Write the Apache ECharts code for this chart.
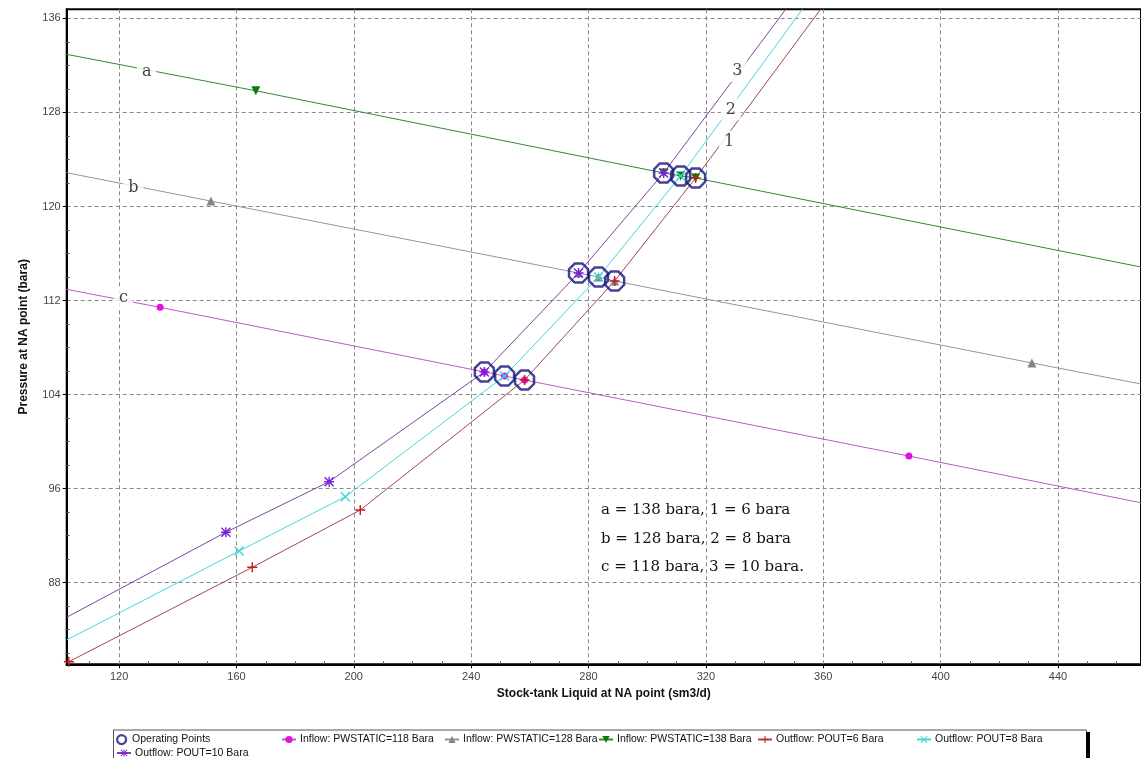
<!DOCTYPE html>
<html>
<head>
<meta charset="utf-8">
<script src="https://cdn.jsdelivr.net/npm/echarts@6/dist/echarts.min.js"></script>
<style>
html,body{margin:0;padding:0;background:#fff;}
#c{width:1141px;height:758px;}
</style>
</head>
<body>
<div id="c"></div>
<script>
// ---- axis ranges & ticks ----
const xMin = 102.15, xMax = 468.3;
const yMin = 81.06, yMax = 136.77;
const xTicks = [120, 160, 200, 240, 280, 320, 360, 400, 440];
const xMinorTicks = [110, 130, 140, 150, 170, 180, 190, 210, 220, 230, 250, 260, 270, 290, 300, 310, 330, 340, 350, 370, 380, 390, 410, 420, 430, 450, 460];
const yTicks = [88, 96, 104, 112, 120, 128, 136];
const yMinorTicks = [82, 84, 86, 90, 92, 94, 98, 100, 102, 106, 108, 110, 114, 116, 118, 122, 124, 126, 130, 132, 134];

// ---- operating points (intersections) ----
const opPoints = [[244.5, 105.93], [251.4, 105.58], [258.2, 105.24], [276.6, 114.34], [283.4, 114.0], [288.9, 113.66], [305.6, 122.85], [311.4, 122.6], [316.5, 122.42]];

// ---- inflow lines: edge points (no marker) and marker points ----
const inflow118Edges = [[102.15, 112.95], [468.3, 94.8]];
const inflow118Pts = [[134.0, 111.42], [244.5, 105.93], [251.4, 105.58], [258.2, 105.24], [389.2, 98.77]];
const inflow128Edges = [[102.15, 122.87], [468.3, 104.9]];
const inflow128Pts = [[151.3, 120.46], [276.6, 114.34], [283.4, 114.0], [288.9, 113.66], [431.1, 106.69]];
const inflow138Edges = [[102.15, 132.94], [468.3, 114.85]];
const inflow138Pts = [[166.6, 129.84], [305.6, 122.85], [311.4, 122.6], [316.5, 122.42]];

// ---- outflow curves ----
const outflow6Edges = [null, [359.1, 136.77]];
const outflow6Pts = [[102.9, 81.28], [165.4, 89.31], [202.2, 94.18], [258.2, 105.24], [288.9, 113.66], [316.5, 122.42]];
const outflow8Edges = [[102.15, 83.13], [352.9, 136.77]];
const outflow8Pts = [[160.9, 90.69], [197.1, 95.31], [251.4, 105.58], [283.4, 114.0], [311.4, 122.6]];
const outflow10Edges = [[102.15, 85.06], [347.2, 136.77]];
const outflow10Pts = [[156.4, 92.29], [191.6, 96.59], [244.5, 105.93], [276.6, 114.34], [305.6, 122.85]];

// ---- curve labels ----
const curveLabelText = ['a', 'b', 'c', '3', '2', '1'];
const curveLabelPos = [[129.4, 131.46], [124.9, 121.6], [121.5, 112.24], [330.7, 131.52], [328.5, 128.26], [327.9, 125.51]];

const noteLines = ['a = 138 bara, 1 = 6 bara', 'b = 128 bara, 2 = 8 bara', 'c = 118 bara, 3 = 10 bara.'];

const names = {
  op: 'Operating Points',
  i118: 'Inflow: PWSTATIC=118 Bara',
  i128: 'Inflow: PWSTATIC=128 Bara',
  i138: 'Inflow: PWSTATIC=138 Bara',
  o6: 'Outflow: POUT=6 Bara',
  o8: 'Outflow: POUT=8 Bara',
  o10: 'Outflow: POUT=10 Bara'
};

const SYM_PLUS = 'path://M4.3,0H5.7V4.3H10V5.7H5.7V10H4.3V5.7H0V4.3H4.3Z';
const SYM_X = 'path://M0,1L1,0L5,4L9,0L10,1L6,5L10,9L9,10L5,6L1,10L0,9L4,5Z';
const SYM_AST = 'path://M4.3,0H5.7V10H4.3Z M0,4.3H10V5.7H0Z M0,1L1,0L10,9L9,10Z M9,0L10,1L1,10L0,9Z';
const SYM_OCT = 'path://M3,0H7L10,3V7L7,10H3L0,7V3Z';
const SYM_ELL = 'path://M0,5A5,5 0 1,1 10,5A5,5 0 1,1 0,5Z';

function buildData(edges, pts) {
  const d = [];
  if (edges[0]) d.push({ value: edges[0], symbol: 'none' });
  pts.forEach(p => d.push({ value: p }));
  if (edges[1]) d.push({ value: edges[1], symbol: 'none' });
  return d;
}

function lineSeries(name, edges, pts, lineColor, symColor, symbol, size, extra) {
  return Object.assign({
    name: name,
    type: 'line',
    data: buildData(edges, pts),
    symbol: symbol,
    symbolSize: size,
    showAllSymbol: true,
    lineStyle: { color: lineColor, width: 1 },
    itemStyle: { color: symColor },
    emphasis: { disabled: true },
    z: 2,
    animation: false
  }, extra || {});
}

const chart = echarts.init(document.getElementById('c'), null, { renderer: 'canvas' });

const axisFont = { fontFamily: 'Liberation Sans, Arial, sans-serif', fontSize: 11, color: '#444' };
const nameFont = { fontFamily: 'Liberation Sans, Arial, sans-serif', fontSize: 12, fontWeight: 'bold', color: '#111' };

function legendAt(name, left, top, extra) {
  return Object.assign({
    data: [name], left: left, top: top, padding: 0, itemWidth: 14, itemHeight: 9, itemGap: 4,
    selectedMode: false,
    textStyle: { fontFamily: 'Liberation Sans, Arial, sans-serif', fontSize: 10.5, color: '#111', padding: [0, 0, 0, -1] }
  }, extra || {});
}

const option = {
  backgroundColor: '#fff',
  animation: false,
  grid: { left: 66.7, top: 9.3, right: 0, bottom: 93.7, show: true, borderColor: '#000', borderWidth: 2, backgroundColor: 'transparent' },
  xAxis: [
    {
      type: 'value', min: xMin, max: xMax, position: 'bottom',
      name: 'Stock-tank Liquid at NA point (sm3/d)', nameLocation: 'middle', nameGap: 19,
      nameTextStyle: nameFont,
      axisLine: { show: true, lineStyle: { color: '#000', width: 2 } },
      axisTick: { show: true, length: 4, lineStyle: { color: '#000' }, customValues: xTicks },
      axisLabel: Object.assign({ margin: 7, customValues: xTicks }, axisFont),
      splitLine: { show: true, lineStyle: { color: '#888', type: [4, 3], width: 1 } }
    },
    {
      type: 'value', min: xMin, max: xMax, position: 'bottom',
      axisLine: { show: false },
      axisTick: { show: true, inside: true, length: 3, lineStyle: { color: '#555' }, customValues: xMinorTicks },
      axisLabel: { show: false },
      splitLine: { show: false }
    }
  ],
  yAxis: [
    {
      type: 'value', min: yMin, max: yMax, position: 'left',
      name: 'Pressure at NA point (bara)', nameLocation: 'middle', nameGap: 37,
      nameTextStyle: nameFont,
      axisLine: { show: true, lineStyle: { color: '#000', width: 2 } },
      axisTick: { show: true, length: 4, lineStyle: { color: '#000' }, customValues: yTicks },
      axisLabel: Object.assign({ margin: 6, customValues: yTicks }, axisFont),
      splitLine: { show: true, lineStyle: { color: '#888', type: [4, 3], width: 1 } }
    },
    {
      type: 'value', min: yMin, max: yMax, position: 'left',
      axisLine: { show: false },
      axisTick: { show: true, inside: true, length: 3, lineStyle: { color: '#555' }, customValues: yMinorTicks },
      axisLabel: { show: false },
      splitLine: { show: false }
    }
  ],
  legend: [
    legendAt(names.op, 116, 734, { icon: SYM_ELL, itemWidth: 13, itemHeight: 9, itemStyle: { color: 'rgba(0,0,0,0)', borderColor: '#14147e', borderWidth: 2.2 } }),
    legendAt(names.i118, 281, 734),
    legendAt(names.i128, 444, 734),
    legendAt(names.i138, 598, 734),
    legendAt(names.o6, 757, 734),
    legendAt(names.o8, 916, 734),
    legendAt(names.o10, 116, 747.5)
  ],
  series: [
    lineSeries(names.i118, inflow118Edges, inflow118Pts, '#c455c4', '#e010e0', 'circle', 7),
    lineSeries(names.i128, inflow128Edges, inflow128Pts, '#959595', '#858585', 'triangle', 9),
    lineSeries(names.i138, inflow138Edges, inflow138Pts, '#2f8a2f', '#0a7a0a', 'triangle', 9, { symbolRotate: 180 }),
    lineSeries(names.o6, outflow6Edges, outflow6Pts, '#a04848', '#c81818', SYM_PLUS, 10),
    lineSeries(names.o8, outflow8Edges, outflow8Pts, '#45d6d6', '#35d8d8', SYM_X, 10),
    lineSeries(names.o10, outflow10Edges, outflow10Pts, '#80449e', '#7a22d8', SYM_AST, 10),
    {
      name: names.op, type: 'scatter', data: opPoints,
      symbol: SYM_OCT, symbolSize: 19,
      itemStyle: { color: 'rgba(0,0,0,0)', borderColor: '#14147e', borderWidth: 2.5 },
      emphasis: { disabled: true }, z: 4, animation: false
    },
    {
      name: 'curve labels', type: 'scatter',
      data: curveLabelPos.map((p, i) => ({ value: p, name: curveLabelText[i] })),
      symbolSize: 1, itemStyle: { color: 'rgba(0,0,0,0)' },
      label: {
        show: true, position: 'inside', formatter: '{b}',
        fontFamily: 'DejaVu Serif, Liberation Serif, serif', fontSize: 16, color: '#111',
        backgroundColor: '#fff', padding: [3, 5]
      },
      emphasis: { disabled: true }, z: 5, animation: false, silent: true
    }
  ],
  graphic: [
    { type: 'rect', left: 113, top: 729.5, shape: { width: 973, height: 40 }, style: { fill: '#fff', stroke: '#555', lineWidth: 1 }, z: -1 },
    { type: 'rect', left: 1086, top: 732, shape: { width: 4, height: 40 }, style: { fill: '#000' }, z: -1 },
    { type: 'text', left: 601, top: 503, style: { text: noteLines[0], font: '15px "DejaVu Serif", "Liberation Serif", serif', fill: '#111' }, z: 10 },
    { type: 'text', left: 601, top: 532, style: { text: noteLines[1], font: '15px "DejaVu Serif", "Liberation Serif", serif', fill: '#111' }, z: 10 },
    { type: 'text', left: 601, top: 560, style: { text: noteLines[2], font: '15px "DejaVu Serif", "Liberation Serif", serif', fill: '#111' }, z: 10 }
  ]
};
chart.setOption(option);
</script>
</body>
</html>
